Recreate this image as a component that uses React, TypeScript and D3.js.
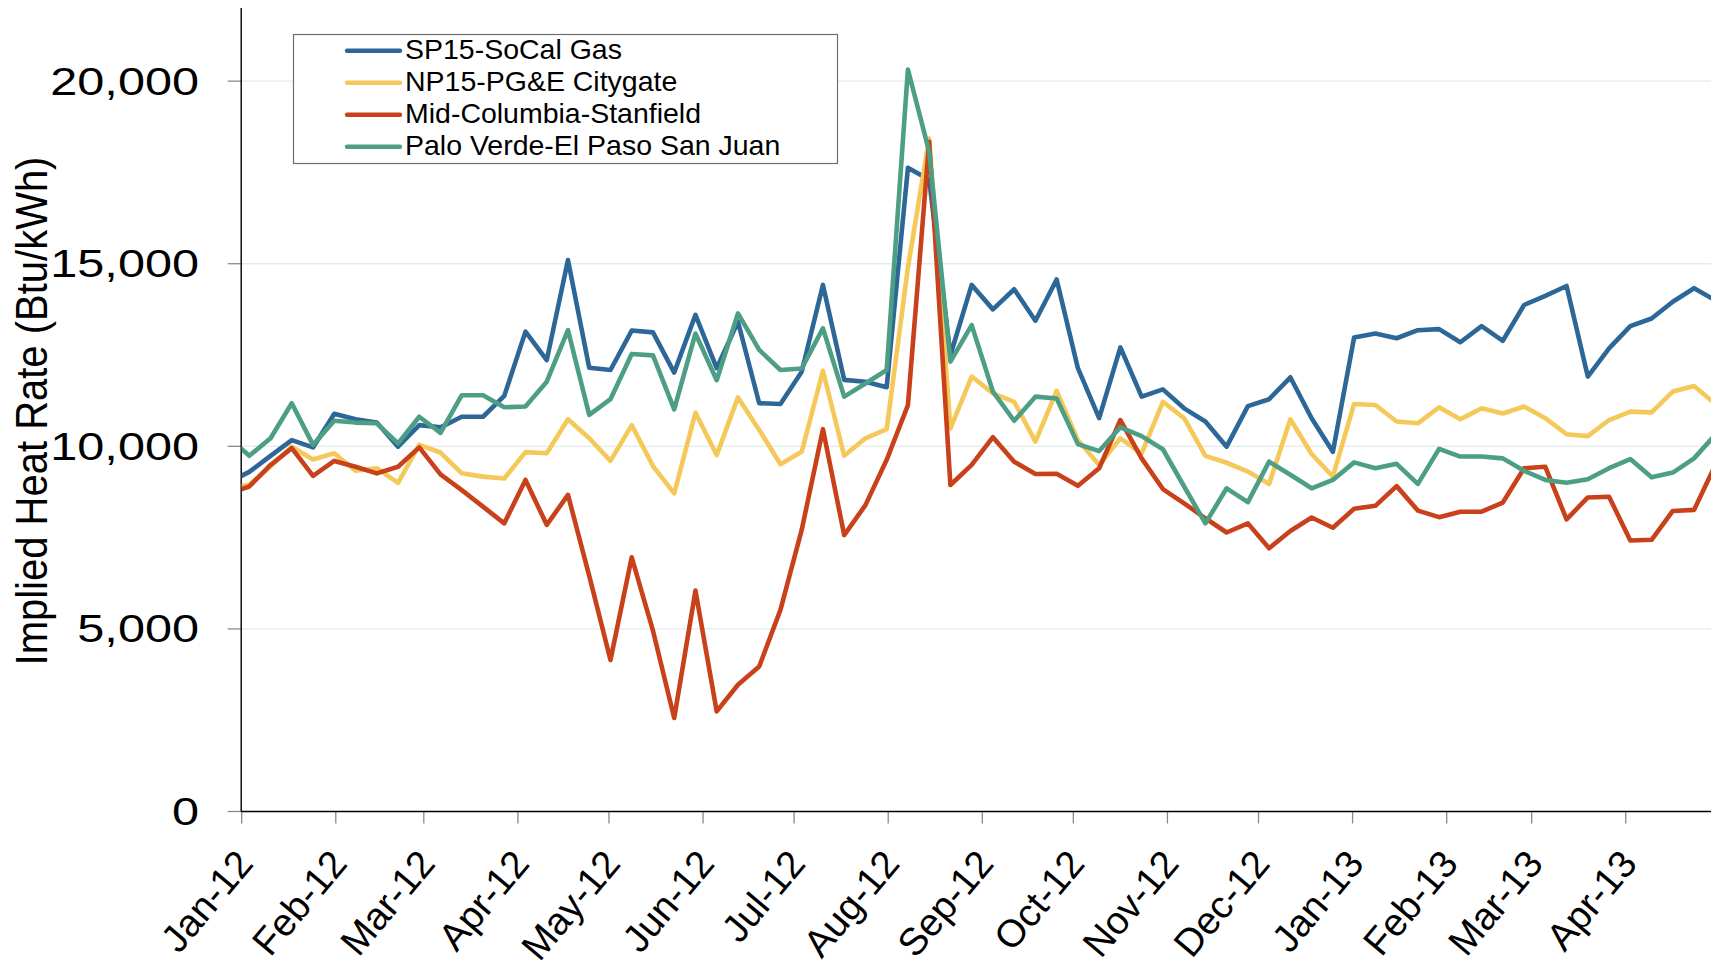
import React, { useRef, useEffect } from 'react';
import * as d3 from 'd3';

const WIDTH = 1711;
const HEIGHT = 969;
const FONT = '"Liberation Sans", Arial, sans-serif';

// weekly prices, the first week sits just left of the axis and gets clipped
const firstWeek = new Date(Date.UTC(2011, 11, 27, 12));

const sp15 = [
  9000, 9300, 9740, 10170, 9970, 10890, 10740, 10650, 9990, 10580, 10520, 10810,
  10810, 11380, 13140, 12360, 15100, 12150, 12090, 13170, 13120, 12020, 13600,
  12140, 13410, 11180, 11160, 12040, 14420, 11820, 11770, 11620, 17630, 17300,
  12500, 14420, 13750, 14300, 13440, 14570, 12140, 10770, 12710, 11360, 11560,
  11040, 10680, 9990, 11100, 11290, 11890, 10770, 9850, 12980, 13090, 12960,
  13180, 13210, 12850, 13290, 12890, 13870, 14120, 14390, 11910, 12680, 13290,
  13500, 13960, 14330, 14000,
];
const np15 = [
  8850, 8950, 9450, 9990, 9640, 9810, 9330, 9400, 9000, 10040, 9830, 9260, 9170,
  9120, 9840, 9810, 10740, 10220, 9600, 10580, 9460, 8710, 10920, 9760, 11340,
  10450, 9510, 9850, 12070, 9740, 10220, 10470, 14900, 18430, 10490, 11910,
  11450, 11220, 10130, 11520, 10170, 9490, 10220, 9810, 11220, 10770, 9740, 9550,
  9310, 8970, 10740, 9790, 9170, 11160, 11130, 10680, 10630, 11070, 10740, 11040,
  10900, 11090, 10770, 10330, 10280, 10720, 10950, 10930, 11500, 11650, 11160,
];
const midC = [
  8700, 8900, 9490, 9950, 9190, 9600, 9440, 9260, 9440, 9970, 9230, 8800, 8350,
  7890, 9080, 7850, 8670, 6450, 4150, 6960, 4950, 2560, 6050, 2740, 3470, 3970,
  5520, 7710, 10470, 7570, 8390, 9630, 11130, 18340, 8940, 9490, 10250, 9580,
  9240, 9250, 8920, 9400, 10720, 9670, 8830, 8440, 8030, 7640, 7890, 7210, 7680,
  8050, 7770, 8290, 8370, 8910, 8240, 8060, 8210, 8210, 8460, 9400, 9440, 8000,
  8600, 8620, 7420, 7440, 8230, 8260, 9490,
];
const paloVerde = [
  10250, 9740, 10220, 11180, 10040, 10700, 10650, 10630, 10080, 10810, 10370,
  11400, 11400, 11070, 11090, 11770, 13180, 10860, 11290, 12530, 12490, 11010,
  13090, 11810, 13640, 12640, 12090, 12130, 13230, 11360, 11720, 12090, 20320,
  18070, 12320, 13320, 11500, 10700, 11360, 11310, 10060, 9870, 10520, 10280,
  9920, 8900, 7890, 8850, 8470, 9580, 9220, 8850, 9080, 9560, 9400, 9520, 8970,
  9930, 9720, 9720, 9670, 9330, 9080, 9000, 9100, 9400, 9650, 9150, 9280, 9670,
  10320,
];

const seriesNames = [
  'SP15-SoCal Gas',
  'NP15-PG&E Citygate',
  'Mid-Columbia-Stanfield',
  'Palo Verde-El Paso San Juan',
];
const seriesColors = ['#2d6797', '#f5c85a', '#c8411b', '#4c9e84'];

const yTicks = [0, 5000, 10000, 15000, 20000];
const monthLabels = [
  'Jan-12', 'Feb-12', 'Mar-12', 'Apr-12', 'May-12', 'Jun-12', 'Jul-12', 'Aug-12',
  'Sep-12', 'Oct-12', 'Nov-12', 'Dec-12', 'Jan-13', 'Feb-13', 'Mar-13', 'Apr-13',
];

export default function App() {
  const svgRef = useRef<SVGSVGElement>(null);

  useEffect(() => {
    const svg = d3.select(svgRef.current);
    svg.selectAll('*').remove();

    const left = 241.7;
    const bottom = 811.5;

    const x = d3
      .scaleUtc()
      .domain([new Date(Date.UTC(2012, 0, 1)), new Date(Date.UTC(2013, 3, 29, 2))])
      .range([left, WIDTH]);
    const y = d3.scaleLinear().domain([0, 22000]).range([bottom, 8.1]);

    const dates = sp15.map((_, i) => d3.utcDay.offset(firstWeek, 7 * i));
    const months = d3.utcMonth.range(
      new Date(Date.UTC(2012, 0, 1)),
      new Date(Date.UTC(2013, 4, 1))
    );

    svg
      .append('defs')
      .append('clipPath')
      .attr('id', 'plot-clip')
      .append('rect')
      .attr('x', left)
      .attr('y', 0)
      .attr('width', WIDTH - left)
      .attr('height', HEIGHT);

    // gridlines
    svg
      .append('g')
      .selectAll('line')
      .data(yTicks.filter(t => t > 0))
      .join('line')
      .attr('x1', left)
      .attr('x2', WIDTH)
      .attr('y1', d => y(d))
      .attr('y2', d => y(d))
      .attr('stroke', '#e3ebeb')
      .attr('stroke-width', 1.3);

    // y ticks + labels
    const yAxis = svg.append('g');
    yAxis
      .selectAll('line')
      .data(yTicks)
      .join('line')
      .attr('x1', left - 14)
      .attr('x2', left)
      .attr('y1', d => y(d))
      .attr('y2', d => y(d))
      .attr('stroke', '#8a8a8a')
      .attr('stroke-width', 1.3);
    yAxis
      .selectAll('text')
      .data(yTicks)
      .join('text')
      .attr('transform', d => `translate(199,${y(d) + 13.5}) scale(1.28,1)`)
      .attr('text-anchor', 'end')
      .attr('font-family', FONT)
      .attr('font-size', 38)
      .attr('fill', '#000')
      .text(d => d3.format(',')(d));

    // x ticks + labels
    const xAxis = svg.append('g');
    xAxis
      .selectAll('line')
      .data(months)
      .join('line')
      .attr('x1', d => x(d))
      .attr('x2', d => x(d))
      .attr('y1', bottom)
      .attr('y2', bottom + 12)
      .attr('stroke', '#8a8a8a')
      .attr('stroke-width', 1.3);
    xAxis
      .selectAll('text')
      .data(months)
      .join('text')
      .attr('transform', d => `translate(${x(d) + 13},${bottom + 53}) rotate(-50)`)
      .attr('text-anchor', 'end')
      .attr('font-family', FONT)
      .attr('font-size', 38.5)
      .attr('fill', '#000')
      .text((_, i) => monthLabels[i]);

    // axis lines
    svg
      .append('line')
      .attr('x1', left - 0.5)
      .attr('x2', left - 0.5)
      .attr('y1', 8)
      .attr('y2', bottom)
      .attr('stroke', '#000')
      .attr('stroke-width', 1.4);
    svg
      .append('line')
      .attr('x1', left - 0.5)
      .attr('x2', WIDTH)
      .attr('y1', bottom)
      .attr('y2', bottom)
      .attr('stroke', '#000')
      .attr('stroke-width', 1.4);

    // y title
    svg
      .append('text')
      .attr('transform', `translate(47,411) scale(1.1,1) rotate(-90)`)
      .attr('text-anchor', 'middle')
      .attr('font-family', FONT)
      .attr('font-size', 40)
      .attr('fill', '#000')
      .text('Implied Heat Rate (Btu/kWh)');

    // series lines
    const series = [sp15, np15, midC, paloVerde].map((values, i) => ({
      name: seriesNames[i],
      color: seriesColors[i],
      values,
    }));
    const lineGen = d3
      .line<number>()
      .x((_, i) => x(dates[i]))
      .y(v => y(v));
    svg
      .append('g')
      .attr('clip-path', 'url(#plot-clip)')
      .selectAll('path')
      .data(series)
      .join('path')
      .attr('d', d => lineGen(d.values))
      .attr('fill', 'none')
      .attr('stroke', d => d.color)
      .attr('stroke-width', 4.6)
      .attr('stroke-linejoin', 'round');

    // legend
    const legend = svg.append('g');
    legend
      .append('rect')
      .attr('x', 293.5)
      .attr('y', 34.5)
      .attr('width', 544)
      .attr('height', 129)
      .attr('fill', '#fff')
      .attr('stroke', '#6e6e6e')
      .attr('stroke-width', 1.2);
    const items = legend
      .selectAll('g')
      .data(series)
      .join('g')
      .attr('transform', (_, i) => `translate(0,${50.7 + i * 32})`);
    items
      .append('line')
      .attr('x1', 347)
      .attr('x2', 400)
      .attr('stroke', d => d.color)
      .attr('stroke-width', 4.4)
      .attr('stroke-linecap', 'round');
    items
      .append('text')
      .attr('transform', 'translate(405,8.7) scale(1.055,1)')
      .attr('font-family', FONT)
      .attr('font-size', 27)
      .attr('fill', '#000')
      .text(d => d.name);
  }, []);

  return (
    <svg
      ref={svgRef}
      width={WIDTH}
      height={HEIGHT}
      style={{ position: 'absolute', left: 0, top: 0, background: '#fff' }}
    />
  );
}
